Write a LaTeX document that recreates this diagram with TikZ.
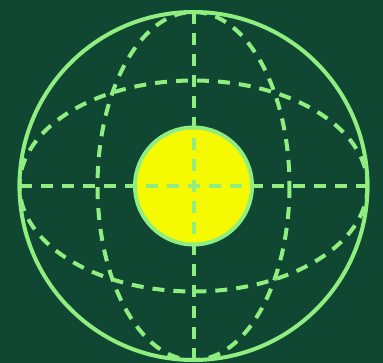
\documentclass[tikz,border=0pt]{standalone}
\definecolor{bgGreen}{RGB}{16,71,51}
\definecolor{lineGreen}{RGB}{144,238,128}
\definecolor{sunYellow}{RGB}{246,250,0}
\begin{document}
\begin{tikzpicture}[x=1pt,y=-1pt,
  rim/.style={draw=lineGreen, line width=4pt},
  grid/.style={draw=lineGreen, line width=4pt, dash pattern=on 12pt off 9pt}]
  % 背景
  \fill[bgGreen] (0,0) rectangle (383,363);
  \useasboundingbox (0,0) rectangle (383,363);
  \coordinate (O) at (193.5,186);
  % 中心黄球
  \filldraw[fill=sunYellow, draw=lineGreen, line width=4pt] (O) circle (58.5);
  % 经纬线（虚线）
  \draw[grid] (O) ellipse (174 and 105.5);
  \draw[grid] (O) ellipse (96 and 174);
  \draw[grid] (19.5,186) -- (367.5,186);
  \draw[grid] (193.5,12) -- (193.5,360);
  % 外圈
  \draw[rim] (O) circle (174);
\end{tikzpicture}
\end{document}
